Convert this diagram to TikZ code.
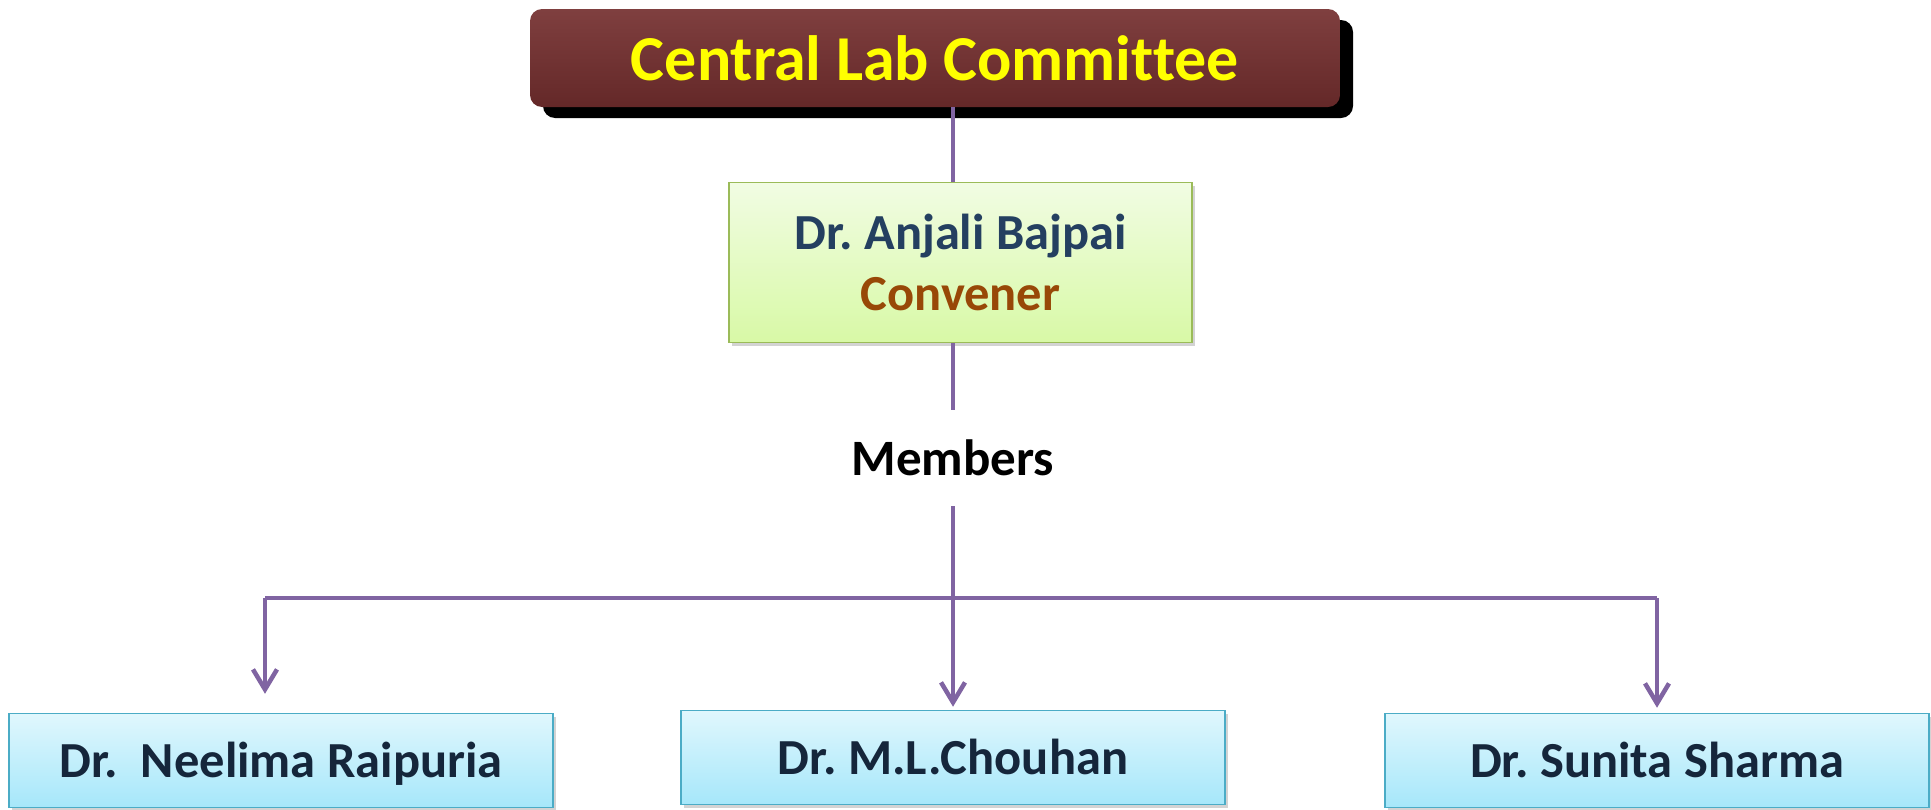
\documentclass[tikz,border=0pt]{standalone}
\usepackage{fontspec}
\setmainfont{Carlito}[Ligatures=NoCommon]
\usepackage{xcolor}
\usetikzlibrary{arrows.meta, positioning, shadows}
\frenchspacing
\definecolor{maroon}{HTML}{6B2B2B}
\definecolor{maroontop}{HTML}{7F3F3F}
\definecolor{maroonbot}{HTML}{642828}
\definecolor{titletext}{HTML}{FFFF00}
\definecolor{wirecol}{HTML}{8064A2}
\definecolor{greentop}{HTML}{F1FCE3}
\definecolor{greenbot}{HTML}{D8F9A6}
\definecolor{greenline}{HTML}{9BBB59}
\definecolor{bluetop}{HTML}{E0F7FD}
\definecolor{bluebot}{HTML}{A6E7FA}
\definecolor{blueline}{HTML}{4BACC6}
\definecolor{nametext}{HTML}{243F60}
\definecolor{roletext}{HTML}{984807}
\definecolor{membertext}{HTML}{15263B}
\tikzset{
    titlebox/.style={rectangle, rounded corners=12pt, top color=maroontop, middle color=maroon, bottom color=maroonbot, minimum width=810pt, minimum height=98pt, inner sep=0pt, text=titletext, font=\fontsize{64}{70}\selectfont\bfseries, drop shadow={shadow xshift=13pt, shadow yshift=-11pt, fill=black, opacity=1}},
    headbox/.style={rectangle, draw=greenline, line width=1.5pt, top color=greentop, bottom color=greenbot, minimum width=463pt, minimum height=160pt, inner sep=0pt, align=center, font=\fontsize{50.5}{61}\selectfont\bfseries, drop shadow={shadow xshift=3pt, shadow yshift=-3pt, fill=black!50, opacity=0.35}},
    memberbox/.style={rectangle, draw=blueline, line width=1.5pt, top color=bluetop, bottom color=bluebot, minimum width=544pt, minimum height=94pt, inner sep=0pt, text height=36pt, text depth=2pt, text=membertext, font=\fontsize{50.5}{60}\selectfont\bfseries, drop shadow={shadow xshift=3pt, shadow yshift=-3pt, fill=black!50, opacity=0.35}},
    label/.style={minimum height=96pt, inner sep=0pt, font=\fontsize{51}{60}\selectfont\bfseries},
    wire/.style={line width=4.5pt, color=wirecol},
    link/.style={wire, -{Straight Barb[length=20pt, width=24pt]}}
}

\begin{document}
\begin{tikzpicture}[x=1pt, y=-1pt]
    \useasboundingbox (0,0) rectangle (1931,809);

    \node [titlebox] (title) at (935,58) {Central Lab Committee};
    \node [headbox] (conv) at (960.5,262.5) {\textcolor{nametext}{Dr. Anjali Bajpai}\\\textcolor{roletext}{Convener}};
    \node [label] (mem) at (953,458) {Members};

    \node [memberbox] (m1) at (281,760.5) {Dr.~\ Neelima Raipuria};
    \node [memberbox] (m2) at (953,757.5) {Dr. M.L.Chouhan};
    \node [memberbox] (m3) at (1657,760.5) {Dr. Sunita Sharma};

    \coordinate (b1) at (265,598);
    \coordinate (b3) at (1657,598);

    \draw [wire] (title.south -| mem) -- (conv.north -| mem);
    \draw [wire] (conv.south -| mem) -- (mem.north);
    \draw [link, shorten >=3pt] (mem.south) -- (m2.north);
    \draw [wire] (b1) -- (b3);
    \draw [link, shorten >=19pt] (b1) -- (b1 |- m1.north);
    \draw [link, shorten >=5pt] (b3) -- (m3.north);
\end{tikzpicture}
\end{document}
